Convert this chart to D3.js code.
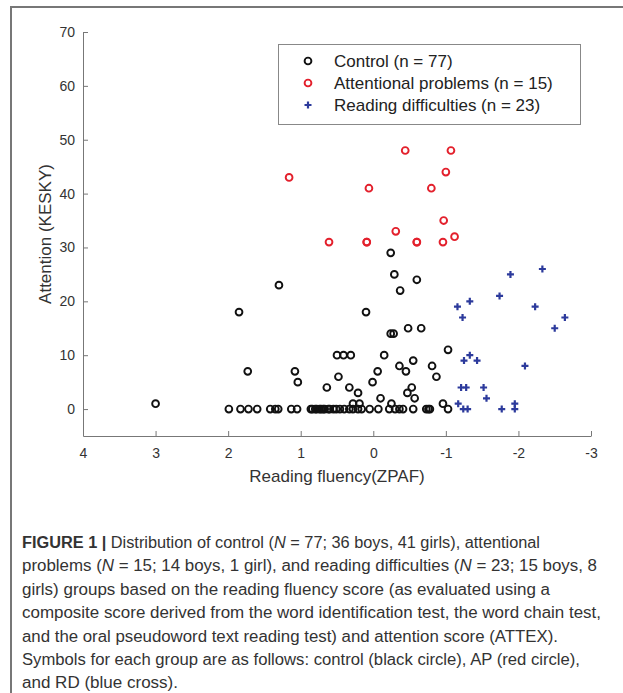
<!DOCTYPE html>
<html>
<head>
<meta charset="utf-8">
<script src="https://cdn.jsdelivr.net/npm/d3@7"></script>
<style>
  body { margin: 0; background: #fff; }
  svg text { font-family: "Liberation Sans", Arial, sans-serif; }
</style>
</head>
<body>
<div id="chart"></div>
<script>
// control group (black circles): [reading fluency, attention]
var controlX = [3.0, 1.85, 1.30, 1.73, 1.08, 1.04, 0.64, 0.50, 0.48, 0.41, 0.31,
  -0.24, -0.29, -0.60, -0.37, 0.10, -0.24, -0.28, -0.48, -0.66, -1.03, -0.15, -0.55,
  -0.36, -0.45, -0.81, -0.87, -0.06, 0.01, 0.33, 0.21, -0.53, -0.47, -0.57, -0.10,
  0.28, 0.19, -0.25, -0.96,
  1.99, 1.83, 1.72, 1.60, 1.42, 1.35, 1.31, 1.13, 1.05, 0.86, 0.84, 0.80, 0.78,
  0.74, 0.72, 0.69, 0.67, 0.62, 0.60, 0.55, 0.51, 0.46, 0.40, 0.33, 0.28, 0.21,
  0.16, 0.05, -0.07, -0.22, -0.30, -0.36, -0.41, -0.55, -0.73, -0.76, -0.78, -1.03];
var controlY = [1, 18, 23, 7, 7, 5, 4, 10, 6, 10, 10,
  29, 25, 24, 22, 18, 14, 14, 15, 15, 11, 10, 9,
  8, 7, 8, 6, 7, 5, 4, 3, 4, 3, 2, 2,
  1, 1, 1, 1,
  0, 0, 0, 0, 0, 0, 0, 0, 0, 0, 0, 0, 0,
  0, 0, 0, 0, 0, 0, 0, 0, 0, 0, 0, 0, 0,
  0, 0, 0, 0, 0, 0, 0, 0, 0, 0, 0, 0];

// attentional problems (red circles)
var apX = [1.16, -0.44, -1.07, -1.00, 0.06, -0.80, -0.97, -0.31, 0.61, 0.09, -0.60, -0.96, -1.12, 0.09, -0.60];
var apY = [43, 48, 48, 44, 41, 41, 35, 33, 31, 31, 31, 31, 32, 31, 31];

// reading difficulties (blue crosses)
var rdX = [-1.89, -2.33, -1.74, -1.16, -1.33, -1.23, -2.23, -2.64, -2.50, -1.33, -1.25, -1.43,
  -2.09, -1.21, -1.28, -1.52, -1.56, -1.17, -1.24, -1.30, -1.77, -1.95, -1.95];
var rdY = [25, 26, 21, 19, 20, 17, 19, 17, 15, 10, 9, 9,
  8, 4, 4, 4, 2, 1, 0, 0, 0, 1, 0];

var xTicks = [4, 3, 2, 1, 0, -1, -2, -3];
var yTicks = [0, 10, 20, 30, 40, 50, 60, 70];
var legendLabels = ["Control (n = 77)", "Attentional problems (n = 15)", "Reading difficulties (n = 23)"];

var caption = [
  [["FIGURE 1 | ", "b"], ["Distribution of control (", ""], ["N", "i"], [" = 77; 36 boys, 41 girls), attentional", ""]],
  [["problems (", ""], ["N", "i"], [" = 15; 14 boys, 1 girl), and reading difficulties (", ""], ["N", "i"], [" = 23; 15 boys, 8", ""]],
  [["girls) groups based on the reading fluency score (as evaluated using a", ""]],
  [["composite score derived from the word identification test, the word chain test,", ""]],
  [["and the oral pseudoword text reading test) and attention score (ATTEX).", ""]],
  [["Symbols for each group are as follows: control (black circle), AP (red circle),", ""]],
  [["and RD (blue cross).", ""]]
];
// where each caption line ends in the figure (x, px)
var captionEnds = [540, 597, 550, 601, 558, 580, 178];

var width = 623, height = 693;
var black = "#111", red = "#e3202c", blue = "#2c3a9c";

var svg = d3.select("#chart").append("svg")
  .attr("width", width)
  .attr("height", height);

// figure frame (left + top edge)
svg.append("path")
  .attr("d", "M11," + height + "V7H" + width)
  .attr("fill", "none")
  .attr("stroke", "#777")
  .attr("stroke-width", 2);

var x = d3.scaleLinear().domain([4, -3]).range([83, 591]);
var y = d3.scaleLinear().domain([-5, 70]).range([436, 32]);

var xAxis = svg.append("g")
  .attr("transform", "translate(0,436)")
  .call(d3.axisBottom(x).tickValues(xTicks).tickFormat(function(d){ return String(d); })
    .tickSizeInner(-5).tickSizeOuter(0).tickPadding(12));

var yAxis = svg.append("g")
  .attr("transform", "translate(83,0)")
  .call(d3.axisLeft(y).tickValues(yTicks).tickSizeInner(-5).tickSizeOuter(0).tickPadding(8));

[xAxis, yAxis].forEach(function(g){
  g.select(".domain").attr("stroke", "#777");
  g.selectAll(".tick line").attr("stroke", "#777");
  g.selectAll(".tick text").attr("fill", "#333").style("font-size", "14px");
});

svg.append("text")
  .attr("x", 337).attr("y", 482)
  .attr("text-anchor", "middle")
  .attr("fill", "#333")
  .style("font-size", "17px")
  .text("Reading fluency(ZPAF)");

svg.append("text")
  .attr("transform", "translate(51,234) rotate(-90)")
  .attr("text-anchor", "middle")
  .attr("fill", "#333")
  .style("font-size", "17px")
  .text("Attention (KESKY)");

// points
var plot = svg.append("g");

plot.selectAll(".ctl")
  .data(d3.range(controlX.length)).enter()
  .append("circle").attr("class", "ctl")
  .attr("cx", function(i){ return x(controlX[i]); })
  .attr("cy", function(i){ return y(controlY[i]); })
  .attr("r", 3.4)
  .attr("fill", "none")
  .attr("stroke", black)
  .attr("stroke-width", 1.9);

plot.selectAll(".ap")
  .data(d3.range(apX.length)).enter()
  .append("circle").attr("class", "ap")
  .attr("cx", function(i){ return x(apX[i]); })
  .attr("cy", function(i){ return y(apY[i]); })
  .attr("r", 3.4)
  .attr("fill", "none")
  .attr("stroke", red)
  .attr("stroke-width", 1.9);

plot.selectAll(".rd")
  .data(d3.range(rdX.length)).enter()
  .append("path").attr("class", "rd")
  .attr("transform", function(i){ return "translate(" + x(rdX[i]) + "," + y(rdY[i]) + ")"; })
  .attr("d", "M-3.5,0H3.5M0,-3.5V3.5")
  .attr("stroke", blue)
  .attr("stroke-width", 2.2);

// legend
var legend = svg.append("g");
legend.append("rect")
  .attr("x", 278.5).attr("y", 44.5)
  .attr("width", 302).attr("height", 80)
  .attr("fill", "#fff")
  .attr("stroke", "#888");

var legendColors = [black, red, blue];
legendLabels.forEach(function(label, i){
  var ly = 61 + i * 22;
  if (i < 2) {
    legend.append("circle")
      .attr("cx", 308).attr("cy", ly).attr("r", 3.4)
      .attr("fill", "none").attr("stroke", legendColors[i]).attr("stroke-width", 1.9);
  } else {
    legend.append("path")
      .attr("transform", "translate(308," + ly + ")")
      .attr("d", "M-3.5,0H3.5M0,-3.5V3.5")
      .attr("stroke", blue).attr("stroke-width", 2.2);
  }
  legend.append("text")
    .attr("x", 334).attr("y", ly + 6)
    .attr("fill", "#222")
    .style("font-size", "17px")
    .text(label);
});

// caption
var cap = svg.append("g");
caption.forEach(function(line, i){
  var t = cap.append("text")
    .attr("x", 22).attr("y", 548 + i * 23.4)
    .attr("fill", "#333")
    .attr("textLength", captionEnds[i] - 22)
    .attr("lengthAdjust", "spacingAndGlyphs")
    .style("font-size", "16px");
  line.forEach(function(part){
    t.append("tspan")
      .style("font-weight", part[1] === "b" ? "bold" : null)
      .style("font-style", part[1] === "i" ? "italic" : null)
      .text(part[0]);
  });
});
</script>
</body>
</html>
